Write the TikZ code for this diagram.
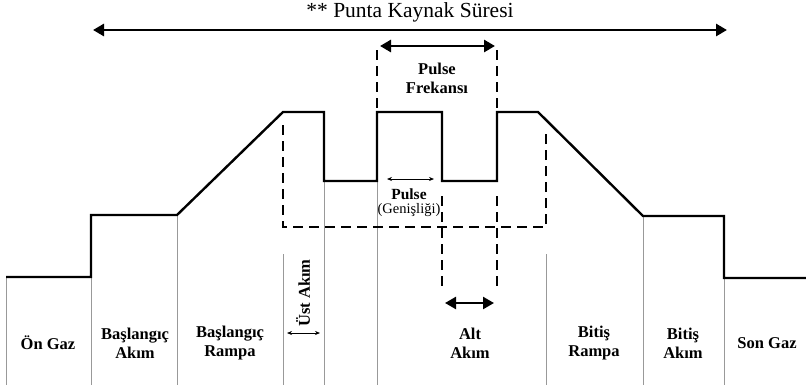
\documentclass[tikz,border=0pt]{standalone}
\usepackage{fontspec}
\setmainfont{Liberation Serif}
\usetikzlibrary{arrows.meta,positioning}

\begin{document}
\begin{tikzpicture}[
      x=1pt, y=-1pt,
      wave/.style={line width=2.4pt, line join=miter},
      sep/.style={draw=black!40, line width=0.9pt},
      guide/.style={line width=2.1pt, dash pattern=on 10pt off 6pt},
      span/.style={line width=2.8pt, {Triangle[length=11pt,width=12pt]}-{Triangle[length=11pt,width=12pt]}},
      tick/.style={line width=0.7pt, {Stealth[length=5pt,width=4pt]}-{Stealth[length=5pt,width=4pt]}},
      lbl/.style={font=\bfseries\fontsize{16.5}{19}\selectfont, align=center},
      small/.style={font=\fontsize{14.5}{15}\selectfont}
    ]
    \useasboundingbox (0,0) rectangle (806,389);

    % phase separators
    \foreach \x/\y in {6/277, 91/215, 177/215, 283/254, 324/181, 377/181,
                       546/254, 643/216, 724/278}
      \draw[sep] (\x,\y) -- (\x,385);

    % dashed guides
    \draw[guide] (283,125) -- (283,227) -- (546,227) -- (546,131);
    \draw[guide] (377,50) -- (377,112);
    \draw[guide] (497,50) -- (497,112);
    \draw[guide] (442,196) -- (442,287);
    \draw[guide] (497,196) -- (497,287);

    % current waveform
    \draw[wave] (6,277) -- (91,277) -- (91,215) -- (177,215) -- (283,112)
      -- (324,112) -- (324,181) -- (377,181) -- (377,112) -- (442,112)
      -- (442,181) -- (497,181) -- (497,112) -- (538,112) -- (643,216)
      -- (724,216) -- (724,278) -- (806,278);

    % spans
    \node[font=\fontsize{21.5}{24}\selectfont] (title) at (410,12) {** Punta Kaynak Süresi};
    \coordinate (totL) at (93,30);
    \coordinate (totR) at (727,30);
    \draw[span] (totL) -- (totR);

    \coordinate (frekL) at (380,46);
    \coordinate (frekR) at (495,46);
    \draw[span] (frekL) -- (frekR);
    \node[lbl] (pulsefrek) at (437,78) {Pulse\\Frekansı};

    \coordinate (genL) at (387,179);
    \coordinate (genR) at (434,179);
    \draw[tick] (genL) -- (genR);
    \node[lbl, font=\bfseries\fontsize{15.5}{16}\selectfont] (pulse) at (409,194) {Pulse};
    \node[small, below=-3pt of pulse] (genislik) {(Genişliği)};

    \coordinate (altL) at (445,303);
    \coordinate (altR) at (494,303);
    \draw[span, line width=2.4pt] (altL) -- (altR);

    \node[lbl, rotate=90] (ustakim) at (303,293) {Üst Akım};
    \coordinate (ustL) at (287,333);
    \coordinate (ustR) at (320,333);
    \draw[tick] (ustL) -- (ustR);

    % phase labels
    \node[lbl] (ongaz)    at (48,343)  {Ön Gaz};
    \node[lbl] (basakim)  at (135,343) {Başlangıç\\Akım};
    \node[lbl] (basrampa) at (230,343) {Başlangıç\\Rampa};
    \node[lbl] (altakim)  at (470,343) {Alt\\Akım};
    \node[lbl] (bitrampa) at (594,343) {Bitiş\\Rampa};
    \node[lbl] (bitakim)  at (683,343) {Bitiş\\Akım};
    \node[lbl] (songaz)   at (767,343) {Son Gaz};
  \end{tikzpicture}
\end{document}
